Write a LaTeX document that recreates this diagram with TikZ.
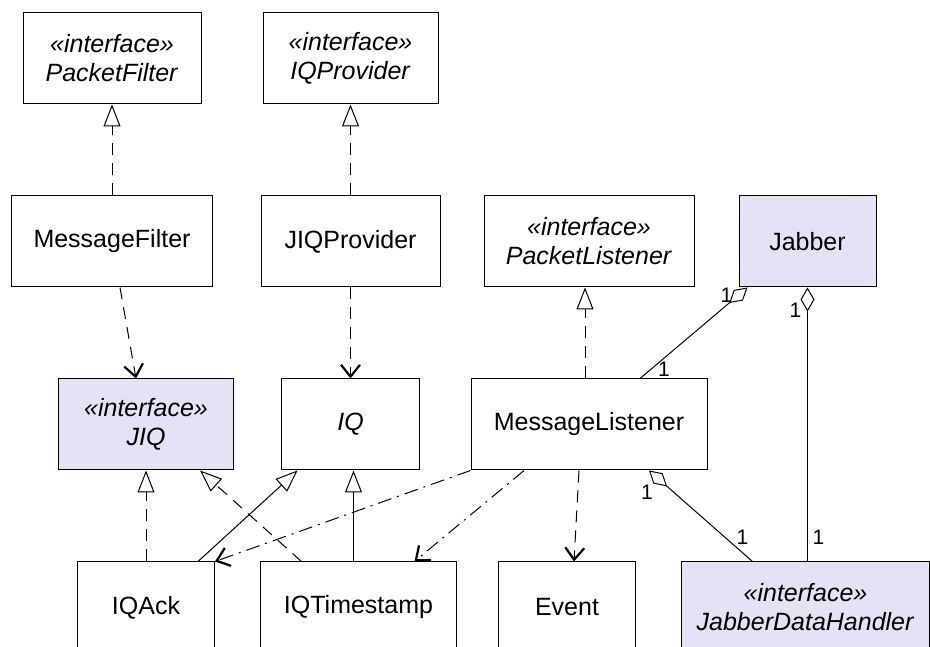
\documentclass[tikz,border=0pt]{standalone}
\usepackage{fontspec}
\setmainfont{Liberation Sans}
\usetikzlibrary{arrows.meta,positioning}
\definecolor{IfaceLav}{RGB}{227,227,245}
\newcommand{\stereo}[1]{\textit{«interface»}\\\textit{#1}}

\begin{document}
\begin{tikzpicture}[
  x=1pt, y=1pt,
  node distance=91pt and 45pt,
  cls/.style={
    draw,
    line width=1pt,
    minimum height=91pt,
    inner sep=0pt,
    align=center,
    font=\fontsize{25}{29}\selectfont
  },
  lav/.style={fill=IfaceLav},
  realize/.style={-{Triangle[open,length=22pt,width=17pt]},line width=1pt,dash pattern=on 12pt off 8pt},
  inherit/.style={-{Triangle[open,length=22pt,width=17pt]},line width=1pt},
  depend/.style={-{Straight Barb[length=12pt,width=19pt,line width=2.2pt]},line width=1pt,dash pattern=on 12pt off 8pt},
  usedep/.style={-{Straight Barb[length=12pt,width=19pt,line width=2.2pt]},line width=1pt,dash pattern=on 14pt off 6pt on 2pt off 6pt},
  aggr/.style={{Diamond[open,length=24pt,width=14pt]}-,line width=1pt},
  mult/.style={font=\fontsize{21}{24}\selectfont,inner sep=0pt}
]
\useasboundingbox (0,0) rectangle (930,646);
\clip (0,0) rectangle (930,646);

% classes
\node[cls,minimum width=178pt] (pfilter) at (112,587.5) {\stereo{PacketFilter}};
\node[cls,minimum width=175pt,right=61pt of pfilter] (iqprov) {\stereo{IQProvider}};
\node[cls,minimum width=201pt,below=of pfilter] (mfilter) {MessageFilter};
\node[cls,minimum width=179pt,below=of iqprov] (jiqprov) {JIQProvider};
\node[cls,minimum width=210pt,right=43pt of jiqprov] (plistener) {\stereo{PacketListener}};
\node[cls,lav,minimum width=137pt,right=44pt of plistener] (jabber) {Jabber};
\node[cls,lav,minimum width=175pt,below=of mfilter,xshift=34pt] (jiq) {\stereo{JIQ}};
\node[cls,minimum width=138pt,below=of jiqprov] (iq) {\textit{IQ}};
\node[cls,minimum width=236pt,below=of plistener] (mlistener) {MessageListener};
\node[cls,minimum width=137pt,below=of jiq] (iqack) {IQAck};
\node[cls,minimum width=196pt,right=of iqack] (iqts) {IQTimestamp};
\node[cls,minimum width=137pt,right=41pt of iqts] (event) {Event};
\node[cls,lav,minimum width=248pt,right=of event] (jdh) {\stereo{JabberDataHandler}};

% realizations and dependencies
\draw[realize] (mfilter) -- (pfilter);
\draw[realize] (jiqprov) -- (iqprov);
\draw[depend] ([xshift=8pt]mfilter.south) -- ([xshift=-10pt]jiq.north);
\draw[depend] (jiqprov) -- (iq);
\draw[realize] ([xshift=-4pt]mlistener.north) -- ([xshift=-4pt]plistener.south);
\draw[depend] ([xshift=-10pt]mlistener.south) -- ([xshift=7pt]event.north);
\draw[usedep] ([xshift=-65pt]mlistener.south) -- ([xshift=56pt]iqts.north);
\draw[usedep] (mlistener.south west) -- (iqack.north east);
\draw[realize] (iqack.north) -- (iqack.north |- jiq.south);
\draw[inherit] ([xshift=52pt]iqack.north) -- ([xshift=-53pt]iq.south);
\draw[inherit] ([xshift=-5pt]iqts.north) -- ([xshift=3pt]iq.south);
\draw[realize] ([xshift=-57pt]iqts.north) -- ([xshift=54pt]jiq.south);

% aggregations
\draw[aggr] ([xshift=-60pt]jabber.south) -- ([xshift=51pt]mlistener.north)
  node[mult,at start,xshift=-21pt,yshift=-8pt] {1}
  node[mult,at end,xshift=24pt,yshift=9pt] {1};
\draw[aggr] (jabber.south) -- (jabber.south |- jdh.north)
  node[mult,at start,xshift=-12pt,yshift=-23pt] {1}
  node[mult,at end,xshift=11pt,yshift=24pt] {1};
\draw[aggr] ([xshift=60pt]mlistener.south) -- ([xshift=-53pt]jdh.north)
  node[mult,at start,xshift=-2pt,yshift=-22pt] {1}
  node[mult,at end,xshift=-10pt,yshift=24pt] {1};
\end{tikzpicture}
\end{document}
